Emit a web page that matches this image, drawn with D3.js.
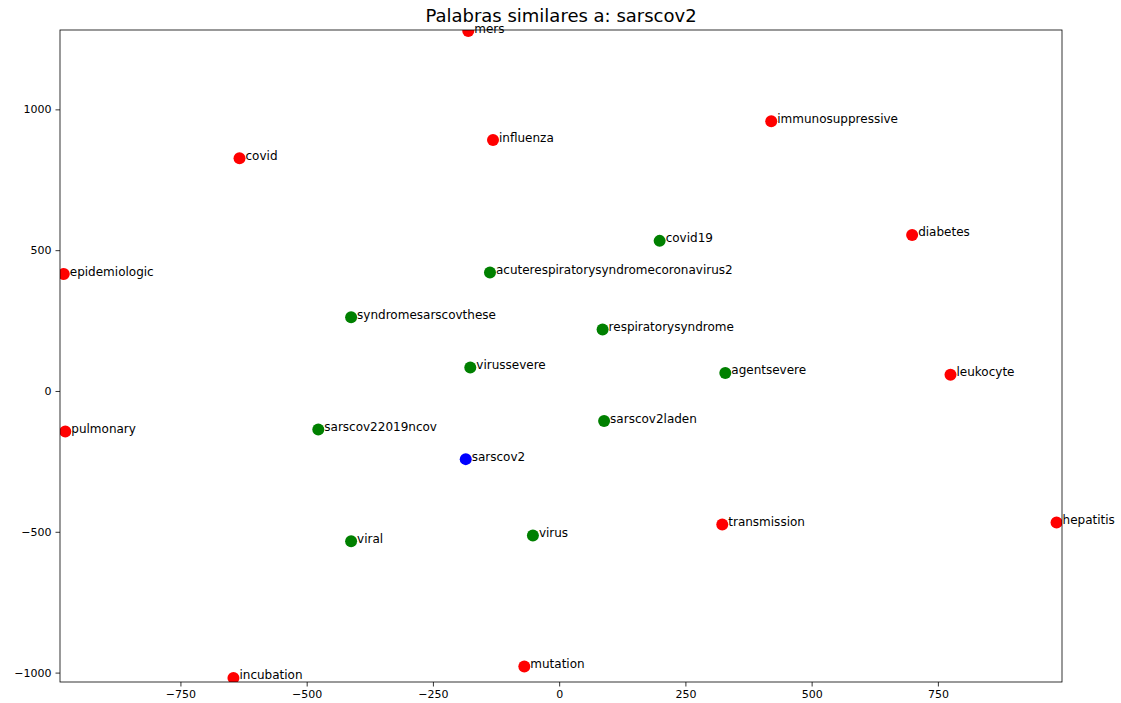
<!DOCTYPE html>
<html>
<head>
<meta charset="utf-8">
<script src="https://cdn.jsdelivr.net/npm/d3@7"></script>
<style>
  html, body { margin: 0; padding: 0; background: #fff; }
  svg { display: block; font-family: "DejaVu Sans", sans-serif; }
</style>
</head>
<body>
<script>
// ---- data ----
const words = ["mers","influenza","immunosuppressive","covid","epidemiologic","diabetes",
  "covid19","acuterespiratorysyndromecoronavirus2","syndromesarscovthese","respiratorysyndrome",
  "virussevere","agentsevere","leukocyte","pulmonary","sarscov22019ncov","sarscov2laden",
  "sarscov2","transmission","hepatitis","viral","virus","mutation","incubation"];
const xs = [-180, -131, 420, -633, -981, 699,
  199, -137, -412, 86,
  -176, 329, 775, -978, -477, 89,
  -185, 323, 985, -412, -52, -69, -645];
const ys = [1278, 891, 958, 826, 415, 554,
  533, 421, 262, 218,
  83, 64, 58, -144, -137, -107,
  -242, -474, -467, -534, -513, -978, -1019];
const groups = ["other","other","other","other","other","other",
  "similar","similar","similar","similar",
  "similar","similar","other","other","similar","similar",
  "query","other","other","similar","similar","other","other"];
const groupNames = ["query","similar","other"];
const groupColors = ["#0000ff","#008000","#ff0000"];
const xTicks = [-750,-500,-250,0,250,500,750];
const yTicks = [-1000,-500,0,500,1000];
const xDomain = [-988.5, 995.8];
const yDomain = [-1033.4, 1281.8];
const chartTitle = "Palabras similares a: sarscov2";

// ---- layout ----
const W = 1121, H = 703;
const mLeft = 60, mRight = 1062, mTop = 30, mBottom = 682;

const svg = d3.select("body").append("svg").attr("width", W).attr("height", H);

const x = d3.scaleLinear().domain(xDomain).range([mLeft, mRight]);
const y = d3.scaleLinear().domain(yDomain).range([mBottom, mTop]);
const color = d3.scaleOrdinal().domain(groupNames).range(groupColors);

svg.append("defs").append("clipPath").attr("id", "plotclip")
  .append("rect").attr("x", mLeft).attr("y", mTop).attr("width", mRight - mLeft).attr("height", mBottom - mTop);

// axes
const fmt = d => d < 0 ? "\u2212" + Math.abs(d) : String(d);
const xAxis = svg.append("g").attr("transform", `translate(0,${mBottom})`)
  .call(d3.axisBottom(x).tickValues(xTicks).tickFormat(fmt).tickSize(4.5).tickPadding(4));
const yAxis = svg.append("g").attr("transform", `translate(${mLeft},0)`)
  .call(d3.axisLeft(y).tickValues(yTicks).tickFormat(fmt).tickSize(4.5).tickPadding(4));
[xAxis, yAxis].forEach(a => {
  a.select(".domain").remove();
  a.selectAll("text").attr("font-size", "11px").attr("fill", "#000").attr("font-family", "DejaVu Sans, sans-serif");
  a.selectAll("line").attr("stroke", "#000").attr("stroke-width", 0.8);
});

// points
const data = words.map((w, i) => ({w, x: xs[i], y: ys[i], g: groups[i]}));
svg.append("g").attr("clip-path", "url(#plotclip)")
  .selectAll("circle").data(data).join("circle")
  .attr("cx", d => x(d.x)).attr("cy", d => y(d.y)).attr("r", 6)
  .attr("fill", d => color(d.g));

// labels
svg.append("g").selectAll("text").data(data).join("text")
  .attr("x", d => x(d.x) + 6).attr("y", d => y(d.y) + 1.5)
  .attr("font-size", "12px").attr("fill", "#000")
  .text(d => d.w);

// frame
svg.append("rect").attr("x", mLeft).attr("y", mTop).attr("width", mRight - mLeft).attr("height", mBottom - mTop)
  .attr("fill", "none").attr("stroke", "#000").attr("stroke-width", 0.8);

// title
svg.append("text").attr("x", (mLeft + mRight) / 2).attr("y", 22)
  .attr("text-anchor", "middle").attr("font-size", "18px").attr("fill", "#000")
  .text(chartTitle);
</script>
</body>
</html>
